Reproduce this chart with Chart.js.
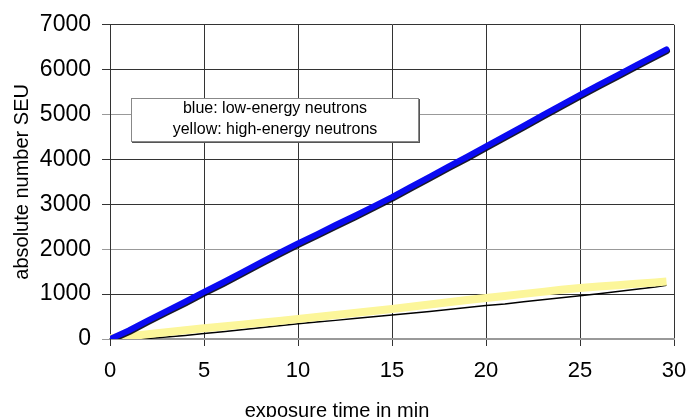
<!DOCTYPE html>
<html>
<head>
<meta charset="utf-8">
<script src="https://cdn.jsdelivr.net/npm/chart.js@4.4.1/dist/chart.umd.min.js"></script>
<style>
  html, body { margin: 0; padding: 0; background: #fff; }
  #wrap { width: 690px; height: 417px; }
</style>
</head>
<body>
<div id="wrap"><canvas id="seuChart" width="690" height="417"></canvas></div>
<script>
// exposure time (min)
var minutes = [0, 1, 2, 3, 4, 5, 6, 7, 8, 9, 10, 11, 12, 13, 14, 15, 16, 17, 18, 19, 20, 21, 22, 23, 24, 25, 26, 27, 28, 29, 29.6];
// blue: low-energy neutrons
var lowEnergy = [0, 190, 410, 620, 830, 1050, 1260, 1480, 1700, 1920, 2130, 2330, 2540, 2740, 2950, 3160, 3390, 3610, 3840, 4060, 4290, 4520, 4750, 4980, 5210, 5440, 5660, 5880, 6100, 6320, 6450];
// yellow: high-energy neutrons
var highEnergy = [15, 60, 105, 150, 195, 240, 280, 320, 360, 400, 445, 490, 535, 580, 625, 670, 720, 770, 820, 870, 915, 960, 1005, 1050, 1095, 1135, 1170, 1200, 1230, 1260, 1280];
// thin black curve under the yellow band
var highEnergyRef = [0, 0, 10, 45, 80, 120, 160, 205, 250, 295, 340, 380, 415, 455, 495, 535, 575, 615, 655, 700, 745, 780, 830, 875, 920, 965, 1010, 1060, 1110, 1160, 1200];

var xTicks = [0, 5, 10, 15, 20, 25, 30];
var yTicks = [0, 1000, 2000, 3000, 4000, 5000, 6000, 7000];
var noteLines = ['blue: low-energy neutrons', 'yellow: high-energy neutrons'];

function pairs(xs, ys) {
    return xs.map(function(x, i){ return {x: x, y: ys[i]}; });
}

var FONT = '"Liberation Sans", Arial, sans-serif';

// dark edge under the blue band
var shadowPlugin = {
    id: 'blueShadow',
    beforeDatasetDraw: function(chart, args){
        if (args.index !== 0) return;
        var ctx = chart.ctx;
        ctx.save();
        ctx.shadowColor = 'rgba(0,0,20,0.9)';
        ctx.shadowOffsetX = 0.5;
        ctx.shadowOffsetY = 1.5;
        ctx.shadowBlur = 0;
    },
    afterDatasetDraw: function(chart, args){
        if (args.index !== 0) return;
        chart.ctx.restore();
    }
};

// text box inside the plot
var notePlugin = {
    id: 'noteBox',
    afterDatasetsDraw: function(chart){
        var ctx = chart.ctx;
        var x0 = 131, y0 = 98, w = 288, h = 44;
        ctx.save();
        ctx.fillStyle = '#555';
        ctx.fillRect(x0 + 1, y0 + 1, w, h);
        ctx.fillStyle = '#fff';
        ctx.fillRect(x0, y0, w, h);
        ctx.strokeStyle = '#888';
        ctx.lineWidth = 1;
        ctx.strokeRect(x0 + 0.5, y0 + 0.5, w - 1, h - 1);
        ctx.fillStyle = '#000';
        ctx.font = '16px ' + FONT;
        ctx.textAlign = 'center';
        ctx.textBaseline = 'middle';
        ctx.fillText(noteLines[0], x0 + w / 2, y0 + 11);
        ctx.fillText(noteLines[1], x0 + w / 2, y0 + 32);
        ctx.restore();
    }
};

var context = document.getElementById('seuChart');
var chart = new Chart(context, {
    type: 'line',
    data: {
        datasets: [{
            label: 'low-energy neutrons',
            data: pairs(minutes, lowEnergy),
            borderColor: '#0a0af2',
            borderWidth: 6,
            borderCapStyle: 'round',
            borderJoinStyle: 'round',
            pointRadius: 0,
            tension: 0,
            order: 1
        }, {
            label: 'high-energy neutrons',
            data: pairs(minutes, highEnergy),
            borderColor: '#fcf69a',
            borderWidth: 8,
            borderCapStyle: 'butt',
            pointRadius: 0,
            tension: 0,
            order: 2
        }, {
            label: 'reference',
            data: pairs(minutes, highEnergyRef),
            borderColor: '#000',
            borderWidth: 1.5,
            pointRadius: 0,
            tension: 0,
            order: 3
        }]
    },
    options: {
        responsive: false,
        animation: false,
        layout: { padding: { top: 24, right: 16, left: 0, bottom: 0 } },
        plugins: {
            legend: { display: false },
            tooltip: { enabled: false },
            title: {
                display: true,
                position: 'bottom',
                text: 'exposure time in min',
                color: '#000',
                font: { family: FONT, size: 20, weight: 'normal' },
                padding: { top: 0, bottom: -6 }
            }
        },
        scales: {
            x: {
                type: 'linear',
                min: 0,
                max: 30,
                afterBuildTicks: function(scale){
                    scale.ticks = xTicks.map(function(v){ return {value: v}; });
                },
                afterFit: function(scale){
                    scale.height = 60;
                    scale.paddingLeft = 0;
                    scale.paddingRight = 0;
                },
                ticks: {
                    color: '#000',
                    font: { family: FONT, size: 22 },
                    padding: 12,
                    maxRotation: 0,
                    callback: function(v){ return String(v); }
                },
                grid: { color: '#333', lineWidth: 1, tickLength: 7 },
                border: { color: '#999', width: 2 }
            },
            y: {
                min: 0,
                max: 7000,
                afterBuildTicks: function(scale){
                    scale.ticks = yTicks.map(function(v){ return {value: v}; });
                },
                afterFit: function(scale){ scale.width = 110; },
                ticks: {
                    color: '#000',
                    font: { family: FONT, size: 23 },
                    padding: 11,
                    callback: function(v){ return String(v); }
                },
                grid: {
                    color: function(c){
                        var v = c.tick ? c.tick.value : null;
                        return (v === 0 || v === 2000 || v === 5000) ? '#999' : '#333';
                    },
                    lineWidth: 1,
                    tickLength: 8
                },
                border: { color: '#333', width: 1 },
                title: {
                    display: true,
                    text: 'absolute number SEU',
                    color: '#000',
                    font: { family: FONT, size: 20 },
                    padding: { top: 10, bottom: 0 }
                }
            }
        }
    },
    plugins: [shadowPlugin, notePlugin]
});
</script>
</body>
</html>
